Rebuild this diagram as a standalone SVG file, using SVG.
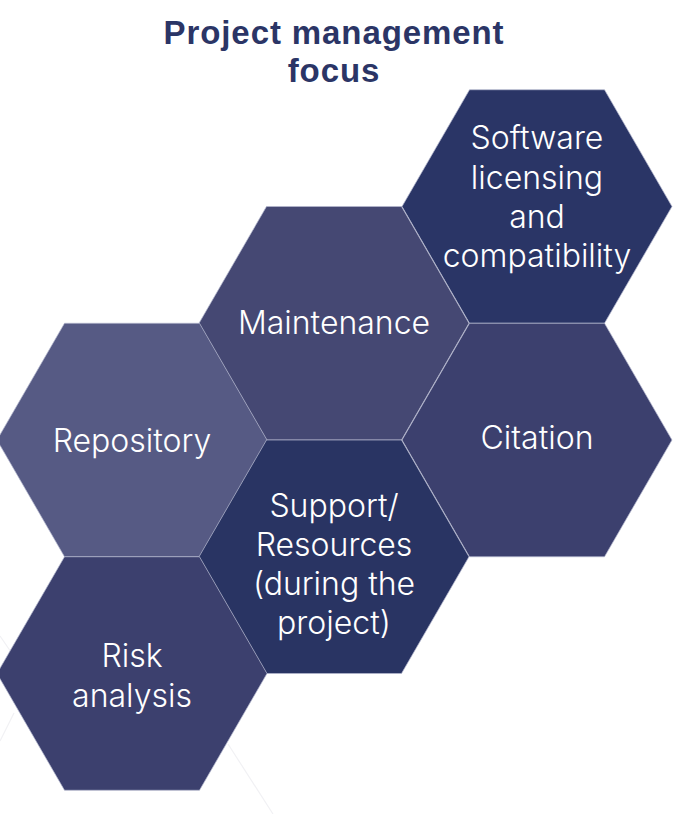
<svg xmlns="http://www.w3.org/2000/svg" xmlns:xlink="http://www.w3.org/1999/xlink" width="680" height="814" viewBox="0 0 680 814">
  <style>
    .title { font-family: "Liberation Sans", Arial, sans-serif; font-weight: bold; font-size: 33px; fill: #2b3566; text-anchor: middle; letter-spacing: 0.9px; }
    .label { font-family: Inter, Roboto, "Liberation Sans", sans-serif; font-weight: 300; font-size: 32px; fill: #ffffff; text-anchor: middle; }
    .hex { stroke: #b4b7cf; stroke-width: 0.7; }
    .ghost { fill: none; stroke: #f1f1f4; stroke-width: 1.2; }
  </style>
  <defs>
    <!-- flat-top regular hexagon centred on the origin -->
    <polygon id="hexagon" points="-135,0 -67.5,-116.75 67.5,-116.75 135,0 67.5,116.75 -67.5,116.75"/>
  </defs>

  <rect width="680" height="814" fill="#ffffff"/>

  <!-- faint background outlines -->
  <g id="ghost-lines">
    <line class="ghost" x1="0" y1="636" x2="11" y2="652"/>
    <line class="ghost" x1="0" y1="741" x2="14" y2="713"/>
    <line class="ghost" x1="228" y1="744" x2="273" y2="814"/>
  </g>

  <text class="title" x="334" y="44">Project management</text>
  <text class="title" x="334" y="82">focus</text>

  <g id="software">
    <use xlink:href="#hexagon" class="hex" fill="#2a3566" transform="translate(537,206.5)"/>
    <text class="label" x="537" y="149">Software</text>
    <text class="label" x="537" y="189">licensing</text>
    <text class="label" x="537" y="228">and</text>
    <text class="label" x="537" y="267">compatibility</text>
  </g>

  <g id="maintenance">
    <use xlink:href="#hexagon" class="hex" fill="#454873" transform="translate(334,323.25)"/>
    <text class="label" x="334" y="334">Maintenance</text>
  </g>

  <g id="repository">
    <use xlink:href="#hexagon" class="hex" fill="#565a84" transform="translate(132,440)"/>
    <text class="label" x="132" y="452">Repository</text>
  </g>

  <g id="citation">
    <use xlink:href="#hexagon" class="hex" fill="#3c406e" transform="translate(537,440)"/>
    <text class="label" x="537" y="449">Citation</text>
  </g>

  <g id="support">
    <use xlink:href="#hexagon" class="hex" fill="#293463" transform="translate(334,556.75)"/>
    <text class="label" x="334" y="517">Support/</text>
    <text class="label" x="334" y="556">Resources</text>
    <text class="label" x="334" y="595">(during the</text>
    <text class="label" x="334" y="634">project)</text>
  </g>

  <g id="risk-analysis">
    <use xlink:href="#hexagon" class="hex" fill="#3c406e" transform="translate(132,673.5)"/>
    <text class="label" x="132" y="667">Risk</text>
    <text class="label" x="132" y="707">analysis</text>
  </g>

  <g id="connectors"/>
</svg>
